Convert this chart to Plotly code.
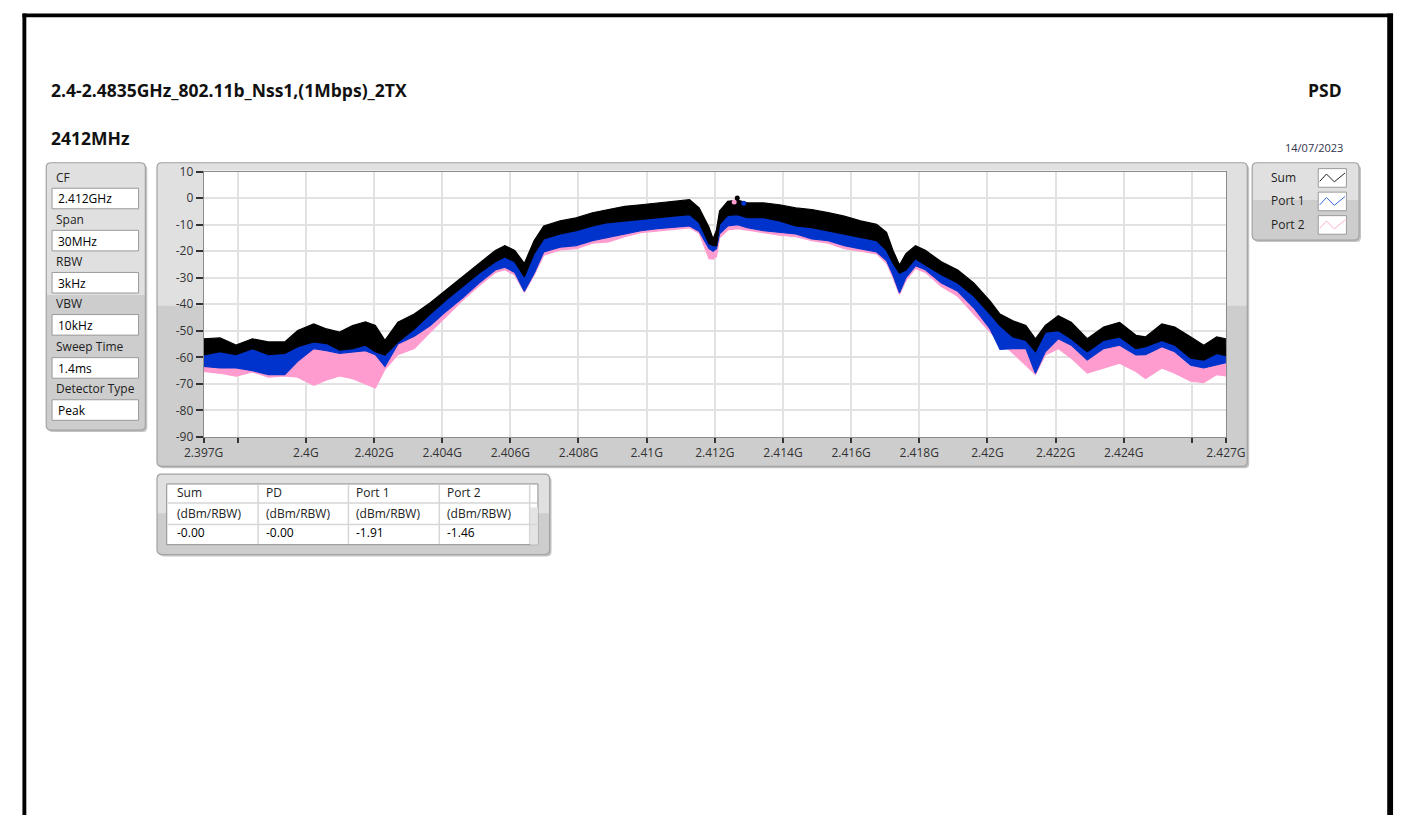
import plotly.graph_objects as go

W, H = 1415, 823

# ---------------- spectrum data (GHz, dBm/RBW) ----------------
freq_ghz = [2.39700, 2.39748, 2.39795, 2.39843, 2.39890, 2.39938, 2.39976, 2.40023, 2.40061, 2.40099,
            2.40137, 2.40175, 2.40204, 2.40232, 2.40270, 2.40318, 2.40365, 2.40413, 2.40460, 2.40508,
            2.40556, 2.40584, 2.40613, 2.40641, 2.40670, 2.40698, 2.40746, 2.40793, 2.40841, 2.40888,
            2.40936, 2.40983, 2.41031, 2.41078, 2.41126, 2.41154, 2.41183, 2.41195, 2.41205, 2.41214,
            2.41238, 2.41267, 2.41295, 2.41343, 2.41390, 2.41438, 2.41485, 2.41533, 2.41580, 2.41628,
            2.41675, 2.41704, 2.41723, 2.41742, 2.41761, 2.41789, 2.41818, 2.41865, 2.41913, 2.41960,
            2.42008, 2.42037, 2.42075, 2.42113, 2.42141, 2.42170, 2.42208, 2.42246, 2.42293, 2.42341,
            2.42388, 2.42436, 2.42464, 2.42512, 2.42550, 2.42597, 2.42635, 2.42673, 2.42700]

# upper / lower envelope of each trace
sum_hi = [-53, -52.7, -55.4, -53, -54.2, -54.2, -49.9, -47.4, -49.3, -50.5,
          -48, -46.6, -48, -53.6, -46.8, -43.7, -39.4, -34.5, -29.6, -24.6,
          -19.7, -17.9, -19.7, -24.6, -16, -10.5, -8.6, -7.4, -5.5, -4.3,
          -3.1, -2.5, -1.8, -1.2, -0.6, -3.7, -11, -15.4, -12, -4.9,
          -1.2, -0.8, -1.8, -1.8, -2.5, -3.7, -4.3, -5.5, -6.8, -8.6,
          -9.9, -12.9, -19.7, -25.2, -20.9, -17.9, -19.7, -24, -27.1, -32,
          -38.8, -43.7, -46.2, -48, -53, -48, -44.3, -46.8, -53, -48.6,
          -46.8, -51.7, -52.3, -47.4, -48.6, -52.3, -55.4, -52.3, -53]
sum_lo = [-59.1, -57.9, -59, -56.7, -59, -58.5, -56, -54.2, -54.8, -57.3,
          -56.7, -55.4, -57.9, -59.1, -54.2, -49.3, -43.7, -38.2, -33.3, -28.3,
          -24, -22.2, -24, -29.6, -20.9, -15.4, -13.5, -12.3, -10.5, -9.2,
          -8.6, -8, -7.4, -6.8, -6.2, -9.2, -17.2, -17.8, -18, -9.9,
          -6.5, -6.2, -7.4, -7.4, -8.6, -10.5, -11.1, -12.3, -13.5, -14.8,
          -16, -19.7, -24.5, -28.3, -27.1, -22.8, -25.2, -28.9, -32, -36.9,
          -43.7, -48, -52.3, -53.6, -57.9, -50.5, -49.9, -53, -57.9, -53.6,
          -52.3, -56.7, -56, -53.6, -55.4, -60.3, -61, -58.5, -59.3]

port1_hi = [-56, -55.3, -57.2, -54.9, -56.6, -56.4, -53, -50.8, -52, -53.9,
            -52.4, -51, -53, -56.4, -50.5, -46.5, -41.6, -36.4, -31.5, -26.5,
            -21.9, -20, -21.9, -27.1, -18.5, -13, -11, -9.9, -8, -6.8,
            -5.9, -5.3, -4.6, -4, -3.4, -6.5, -14.1, -16.6, -15, -7.4,
            -3.9, -3.5, -4.6, -4.6, -5.6, -7.1, -7.7, -8.9, -10.2, -11.7,
            -13, -16.3, -22.1, -26.8, -24, -20.4, -22.5, -26.5, -29.6, -34.5,
            -41.3, -45.9, -49.3, -50.8, -55.5, -49.3, -47.1, -49.9, -55.5, -51.1,
            -49.6, -54.2, -54.2, -50.5, -52, -56.3, -58.2, -55.4, -56.2]
port1_lo = [-63.4, -64, -64, -65, -66.5, -66.5, -61.5, -56.7, -57.5, -58.5,
            -58, -57.5, -59, -63.4, -55, -52, -48, -42.5, -37.6, -32,
            -27.1, -26, -28, -35.1, -28.3, -20.3, -18.5, -17.9, -16, -14.8,
            -13.5, -12.3, -11.5, -11, -10.5, -12.5, -19, -20, -19, -13.5,
            -10.5, -10, -11.1, -12.3, -12.9, -13.5, -15.4, -16, -17.9, -19.1,
            -20.3, -23.5, -29, -35.7, -30, -25.5, -27, -32, -35.1, -41.3,
            -49.3, -57, -56.7, -56.7, -66, -57.9, -53, -55.4, -61, -56.7,
            -55.4, -59.1, -59, -56, -57.9, -63, -64, -62.8, -62]

port2_hi = [-61, -61, -62, -61.5, -62, -62, -60, -56.5, -57, -58,
            -57.5, -57, -58.5, -58, -52, -48, -43, -38, -33, -28,
            -23.4, -21.5, -23.4, -28.6, -20, -14.5, -12.5, -11.4, -9.5, -8.3,
            -7.4, -6.8, -6.1, -5.5, -4.9, -8, -15.6, -18.1, -16.5, -8.9,
            -5.4, -5, -6.1, -6.1, -7.1, -8.6, -9.2, -10.4, -11.7, -13.2,
            -14.5, -17.8, -23.6, -28.3, -25.5, -21.9, -24, -28, -31.1, -36,
            -42.8, -47.4, -50.8, -52.3, -57, -50.8, -48.6, -51.4, -57, -52.6,
            -51.1, -55.7, -55.7, -52, -53.5, -57.8, -59.7, -56.9, -57.7]
port2_lo = [-65.3, -66, -67.1, -65.5, -67.5, -67, -67.5, -70.5, -68.5, -67,
            -68, -70, -71.5, -64.5, -59, -56.7, -50.5, -44.3, -38.5, -33,
            -28, -27, -29, -35.5, -29, -21.5, -19.5, -19, -17, -16.5,
            -14.5, -13, -12.3, -11.8, -11.2, -13.2, -22.8, -23, -22, -15,
            -12, -11.5, -12, -13, -14, -14.5, -16, -17, -19, -20,
            -21, -24.5, -30, -36.3, -31, -26.5, -28, -33.3, -37, -43.7,
            -50.5, -54, -58.5, -63, -66.5, -59.1, -56.7, -60.3, -65.9, -64,
            -62.2, -65.3, -68, -64, -66, -69, -69.5, -66.5, -67]

# peak readings (table) and where they sit
table_cols = ["Sum", "PD", "Port 1", "Port 2"]
table_unit = "(dBm/RBW)"
table_vals = [-0.0, -0.0, -1.91, -1.46]
peak_freq_sum, peak_freq_p1, peak_freq_p2 = 2.41266, 2.41285, 2.41257

# instrument settings
settings = [("CF", "2.412GHz"), ("Span", "30MHz"), ("RBW", "3kHz"),
            ("VBW", "10kHz"), ("Sweep Time", "1.4ms"), ("Detector Type", "Peak")]

x_tickvals = [2.397, 2.398, 2.4, 2.402, 2.404, 2.406, 2.408, 2.41, 2.412, 2.414,
              2.416, 2.418, 2.42, 2.422, 2.424, 2.426, 2.427]
x_ticktext = ["2.397G", "", "2.4G", "2.402G", "2.404G", "2.406G", "2.408G", "2.41G",
              "2.412G", "2.414G", "2.416G", "2.418G", "2.42G", "2.422G", "2.424G", "", "2.427G"]
y_tickvals = [10, 0, -10, -20, -30, -40, -50, -60, -70, -80, -90]
y_ticktext = ["10", "0", "-10", "-20", "-30", "-40", "-50", "-60", "-70", "-80", "-90"]

BLACK = "#000000"
BLUE = "#0033cc"
PINK = "#ff9ccf"
FONT = "Open Sans, Noto Sans, DejaVu Sans, sans-serif"
TXT = "#1e1e1e"


def X(px):
    return px / W


def Y(py):
    return 1 - py / H


fig = go.Figure()

# bands: Port 2 underneath, Port 1, then Sum on top
for hi, lo, col in [(port2_hi, port2_lo, PINK), (port1_hi, port1_lo, BLUE), (sum_hi, sum_lo, BLACK)]:
    fig.add_trace(go.Scatter(
        x=freq_ghz + freq_ghz[::-1], y=hi + lo[::-1],
        mode="lines", fill="toself", fillcolor=col,
        line=dict(color=col, width=1.2), hoverinfo="skip", showlegend=False))

# peak markers
for f, v, col in [(peak_freq_p2, table_vals[3], PINK), (peak_freq_sum, table_vals[0], BLACK),
                  (peak_freq_p1, table_vals[2], BLUE)]:
    fig.add_trace(go.Scatter(x=[f], y=[v], mode="markers",
                             marker=dict(color=col, size=5), hoverinfo="skip", showlegend=False))

shapes = []
annots = []


def rrect_path(x0, y0, x1, y1, r, top_only=False):
    if top_only:
        return (f"M {X(x0)},{Y(y1)} L {X(x0)},{Y(y0 + r)} Q {X(x0)},{Y(y0)} {X(x0 + r)},{Y(y0)} "
                f"L {X(x1 - r)},{Y(y0)} Q {X(x1)},{Y(y0)} {X(x1)},{Y(y0 + r)} L {X(x1)},{Y(y1)} Z")
    return (f"M {X(x0 + r)},{Y(y0)} L {X(x1 - r)},{Y(y0)} Q {X(x1)},{Y(y0)} {X(x1)},{Y(y0 + r)} "
            f"L {X(x1)},{Y(y1 - r)} Q {X(x1)},{Y(y1)} {X(x1 - r)},{Y(y1)} "
            f"L {X(x0 + r)},{Y(y1)} Q {X(x0)},{Y(y1)} {X(x0)},{Y(y1 - r)} "
            f"L {X(x0)},{Y(y0 + r)} Q {X(x0)},{Y(y0)} {X(x0 + r)},{Y(y0)} Z")


def panel(x0, y0, x1, y1, split):
    shapes.append(dict(type="path", path=rrect_path(x0 + 2, y0 + 2, x1 + 2, y1 + 2, 5),
                       xref="paper", yref="paper", fillcolor="#c4c4c4", line=dict(width=0), layer="below"))
    shapes.append(dict(type="path", path=rrect_path(x0, y0, x1, y1, 5),
                       xref="paper", yref="paper", fillcolor="#cdcdcd", line=dict(width=0), layer="below"))
    shapes.append(dict(type="path", path=rrect_path(x0, y0, x1, split, 5, top_only=True),
                       xref="paper", yref="paper", fillcolor="#e0e0e0", line=dict(width=0), layer="below"))
    shapes.append(dict(type="path", path=rrect_path(x0, y0, x1, y1, 5),
                       xref="paper", yref="paper", fillcolor="rgba(0,0,0,0)",
                       line=dict(color="#a2a2a2", width=1.2), layer="below"))


def rect(x0, y0, x1, y1, fill, line_col=None, lw=1):
    shapes.append(dict(type="rect", xref="paper", yref="paper",
                       x0=X(x0), x1=X(x1), y0=Y(y1), y1=Y(y0), fillcolor=fill,
                       line=dict(color=line_col or fill, width=lw if line_col else 0), layer="below"))


def text(x, y, s, size=12, color=TXT, anchor="left", bold=False):
    annots.append(dict(x=X(x), y=Y(y), xref="paper", yref="paper", text=f"<b>{s}</b>" if bold else s,
                       showarrow=False, xanchor=anchor, yanchor="middle",
                       font=dict(family=FONT, size=size, color=color)))


# page border
rect(2.5, 4.5, 1413, 8.5, "#000000")
rect(2.5, 4.5, 6.5, 823, "#000000")
rect(1407, 4.5, 1413, 823, "#000000")

# headings
text(30, 83, "2.4-2.4835GHz_802.11b_Nss1,(1Mbps)_2TX", size=17.5, color="#111111", bold=True)
text(1363, 83, "PSD", size=17.5, color="#111111", anchor="right", bold=True)
text(30, 132, "2412MHz", size=17.5, color="#111111", bold=True)
text(1364, 141, "14/07/2023", size=11, color="#33334d", anchor="right")

# settings panel
panel(27, 157, 129, 430, 292)
label_y = [172, 215, 258, 301, 345, 388]
for (lab, val), ly in zip(settings, label_y):
    text(35, ly, lab)
    rect(33, ly + 11, 122, ly + 32, "#ffffff", "#9a9a9a", 1)
    text(37, ly + 22, val, color="#000000")

# graph frame and plot area
panel(141, 157, 1263, 467, 303)
rect(189, 165, 1241, 437, "#ffffff")

# legend panel
panel(1268, 157, 1378, 236, 195)
leg_items = [("Sum", 172, "#222222"), ("Port 1", 196, "#3a68e6"), ("Port 2", 220, "#ffaad6")]
zig = [(1.5, 13.0), (8.5, 5.5), (16.5, 13.5), (27.5, 4.5)]
for lab, ly, col in leg_items:
    text(1285, ly, lab)
    bx, by = 1336, ly - 9
    rect(bx, by, bx + 29, by + 19, "#ffffff", "#9a9a9a", 1)
    pts = " L ".join(f"{X(bx + dx)},{Y(by + dy)}" for dx, dy in zig)
    shapes.append(dict(type="path", path="M " + pts, xref="paper", yref="paper",
                       line=dict(color=col, width=1), layer="below"))

# results table
panel(141, 475, 545, 557, 515)
rect(151, 485, 533, 547, "#ffffff", "#8e8e8e", 1)
rect(525, 509, 533, 547, "#e4e4e4")
for yy in [504.5, 526.5]:
    shapes.append(dict(type="line", xref="paper", yref="paper", x0=X(152), x1=X(532),
                       y0=Y(yy), y1=Y(yy), line=dict(color="#d6d6d6", width=1.5), layer="below"))
for xx in [245, 338, 431.5, 524.5]:
    shapes.append(dict(type="line", xref="paper", yref="paper", x0=X(xx), x1=X(xx),
                       y0=Y(486), y1=Y(546), line=dict(color="#d6d6d6", width=1.5), layer="below"))
col_x = [159, 251, 344, 437]
for cx, name, v in zip(col_x, table_cols, table_vals):
    text(cx, 494, name, color="#222222")
    text(cx, 515, table_unit, color="#222222")
    text(cx, 535, f"{v:.2f}", color="#000000")

fig.update_layout(
    width=W, height=H, margin=dict(l=0, r=0, t=0, b=0),
    paper_bgcolor="#ffffff", plot_bgcolor="#ffffff",
    shapes=shapes, annotations=annots, showlegend=False,
    font=dict(family=FONT, size=12, color="#333333"),
    xaxis=dict(domain=[X(189), X(1241)], range=[2.397, 2.427],
               tickvals=x_tickvals, ticktext=x_ticktext,
               ticks="outside", ticklen=5, tickcolor="#333333", tickwidth=1.5,
               tickfont=dict(family=FONT, size=12, color="#333333"),
               showgrid=True, gridcolor="#e2e2e2", gridwidth=1.5,
               showline=True, linecolor="#8a8a8a", linewidth=1, mirror=True,
               zeroline=False, fixedrange=True),
    yaxis=dict(domain=[Y(437), Y(166)], range=[-90, 10],
               tickvals=y_tickvals, ticktext=y_ticktext,
               ticks="outside", ticklen=7, tickcolor="#333333", tickwidth=1.5,
               tickfont=dict(family=FONT, size=12, color="#333333"),
               showgrid=True, gridcolor="#e2e2e2", gridwidth=1.5,
               showline=True, linecolor="#8a8a8a", linewidth=1, mirror=True,
               zeroline=False, fixedrange=True),
)

# page without body margin so the figure fills the window exactly
page_css = ("document.documentElement.style.margin='0';"
            "document.body.style.margin='0';document.body.style.padding='0';"
            "document.documentElement.style.overflow='hidden';document.body.style.overflow='hidden';")

fig.write_html("out.html", config={"displayModeBar": False}, post_script=page_css)
